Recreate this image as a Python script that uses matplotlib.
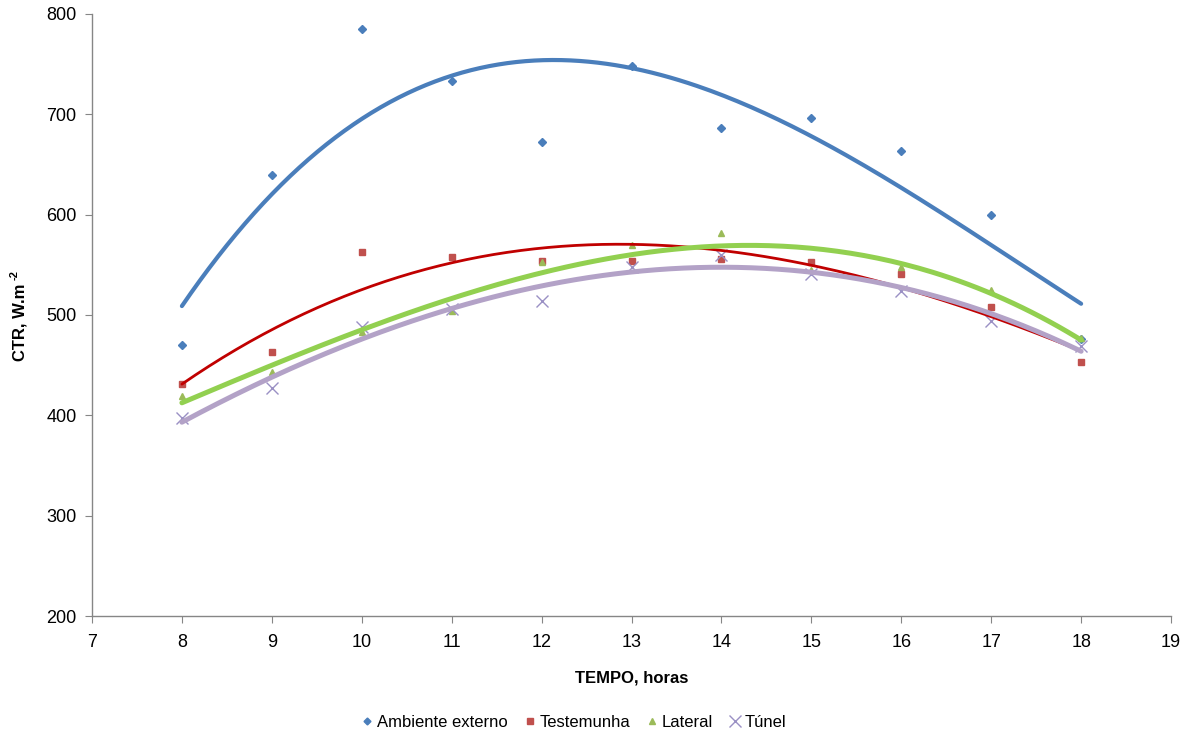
import numpy as np
import matplotlib
matplotlib.use("Agg")
import matplotlib.pyplot as plt
from matplotlib.lines import Line2D

plt.rcParams['font.family'] = ['Liberation Sans', 'DejaVu Sans']

# === Dados ===
horas = [8, 9, 10, 11, 12, 13, 14, 15, 16, 17, 18]
ambiente = [470, 639, 785, 733, 672, 748, 686, 696, 663, 600, 476]
testemunha = [431, 463, 563, 558, 554, 554, 556, 553, 541, 508, 453]
lateral = [419, 443, 483, 504, 553, 570, 582, 545, 548, 525, 477]
tunel = [397, 427, 488, 506, 514, 548, 560, 541, 524, 494, 469]

nomes = ["Ambiente externo", "Testemunha", "Lateral", "Túnel"]

# (cor marcador, cor linha, marcador, tamanho, largura linha)
estilos = [
    ('#4A7EBB', '#4A7EBB', 'D', 4, 3.0),
    ('#C0504D', '#C00000', 's', 5, 2.0),
    ('#9BBB59', '#92D050', '^', 5, 3.6),
    ('#9A90C4', '#B3A2C7', 'x', 9, 3.6),
]

fig = plt.figure(figsize=(11.93, 7.33), dpi=100)
ax = fig.add_axes([0.0771, 0.1596, 0.9045, 0.8214])

x = np.array(horas, dtype=float)
xs = np.linspace(8, 18, 200)
series = [ambiente, testemunha, lateral, tunel]

# === Pontos primeiro, linhas de tendência (polinomial grau 3) por cima ===
for y, (cm, cl, mk, ms, lw) in zip(series, estilos):
    if mk == 'x':
        ax.plot(x, y, ls='none', marker=mk, color=cm, ms=ms, mew=1.0, zorder=2)
    else:
        ax.plot(x, y, ls='none', marker=mk, color=cm, ms=ms, mec=cm, zorder=2)

for y, (cm, cl, mk, ms, lw) in zip(series, estilos):
    coef = np.polyfit(x, np.array(y, dtype=float), 3)
    ax.plot(xs, np.polyval(coef, xs), color=cl, lw=lw, solid_capstyle='round', zorder=3)

ax.set_xlim(7, 19)
ax.set_ylim(200, 800)
ax.set_xticks(range(7, 20))
ax.set_yticks(range(200, 801, 100))
for s in ['top', 'right']:
    ax.spines[s].set_visible(False)
for s in ['left', 'bottom']:
    ax.spines[s].set_color('#868686')
    ax.spines[s].set_linewidth(1.0)
ax.tick_params(axis='both', colors='#868686', labelcolor='black', labelsize=13,
               length=5, direction='out')
ax.tick_params(axis='x', pad=8)
ax.tick_params(axis='y', pad=6)

ax.set_xlabel("TEMPO, horas", fontsize=12, fontweight='bold', labelpad=14)
# rótulo y com expoente -2 (hífen, como no original)
ax.text(-0.0665, 0.488, "CTR, W.m", transform=ax.transAxes, rotation=90,
        fontsize=12, fontweight='bold', ha='center', va='center')
ax.text(-0.0715, 0.567, "-2", transform=ax.transAxes, rotation=90,
        fontsize=8, fontweight='bold', ha='center', va='center')

handles = []
for nome, (cm, cl, mk, ms, lw) in zip(nomes, estilos):
    if mk == 'x':
        handles.append(Line2D([], [], ls='none', marker=mk, color=cm, ms=ms, mew=1.0, label=nome))
    else:
        handles.append(Line2D([], [], ls='none', marker=mk, color=cm, ms=ms - 0.5, label=nome))
fig.legend(handles=handles, loc='center', bbox_to_anchor=(0.48, 0.015), ncol=4,
           frameon=False, fontsize=12, handletextpad=0.1, columnspacing=0.8,
           handlelength=1.0)

fig.savefig("out.png", dpi=100)
